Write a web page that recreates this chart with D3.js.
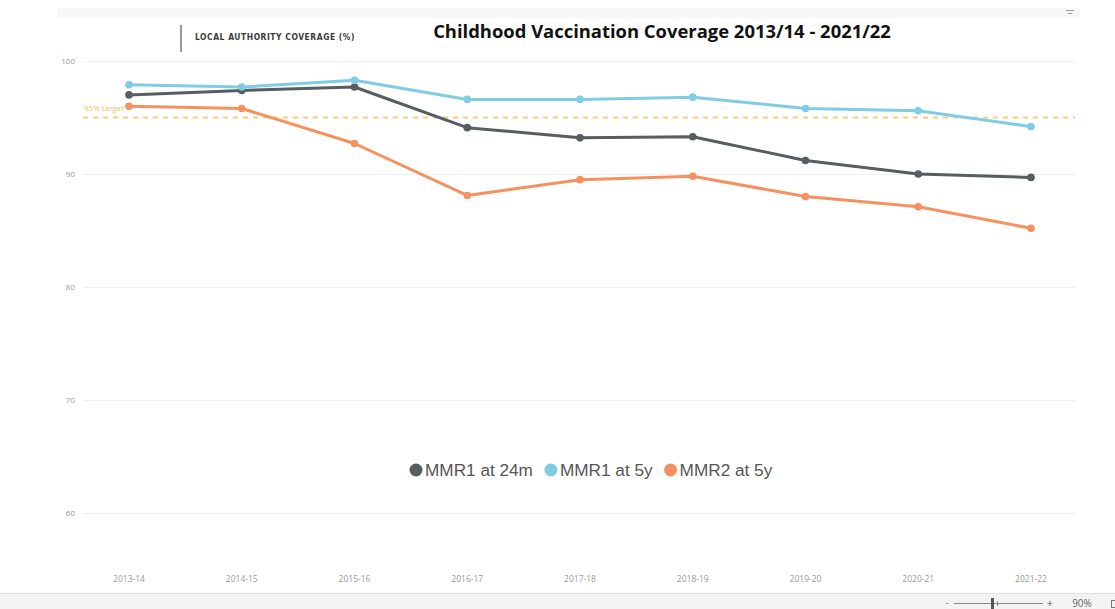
<!DOCTYPE html>
<html>
<head>
<meta charset="utf-8">
<script src="https://cdn.jsdelivr.net/npm/d3@7"></script>
<style>
  html, body { margin: 0; padding: 0; background: #fff; }
  svg { display: block; }
</style>
</head>
<body>
<svg id="chart" width="1115" height="609"></svg>
<script>
// Financial years shown on the x axis
const years = ["2013-14", "2014-15", "2015-16", "2016-17", "2017-18", "2018-19", "2019-20", "2020-21", "2021-22"];

// Coverage (%) per series
const mmr1At24m = [97.0, 97.4, 97.7, 94.1, 93.2, 93.3, 91.2, 90.0, 89.7];
const mmr1At5y  = [97.9, 97.7, 98.3, 96.6, 96.6, 96.8, 95.8, 95.6, 94.2];
const mmr2At5y  = [96.0, 95.8, 92.7, 88.1, 89.5, 89.8, 88.0, 87.1, 85.2];

const seriesNames = ["MMR1 at 24m", "MMR1 at 5y", "MMR2 at 5y"];
const yTicks = [60, 70, 80, 90, 100];
const targetValue = 95;
const targetLabel = "95% target";

const colors = ["#565e62", "#7fcce5", "#f4915f"];
const series = [mmr1At24m, mmr1At5y, mmr2At5y].map((v, i) => ({
  name: seriesNames[i], color: colors[i],
  points: v.map((val, j) => ({ year: years[j], value: val }))
}));

const svg = d3.select("#chart");

// Report chrome: header strip and footer bar
svg.append("rect").attr("x", 57).attr("y", 8).attr("width", 1023).attr("height", 10).attr("fill", "#f7f7f7");
const filt = svg.append("g").attr("stroke", "#9a9a9a").attr("stroke-width", 1);
filt.append("line").attr("x1", 1066).attr("x2", 1074).attr("y1", 10.5).attr("y2", 10.5);
filt.append("line").attr("x1", 1068).attr("x2", 1072).attr("y1", 13.5).attr("y2", 13.5);

svg.append("rect").attr("x", 0).attr("y", 593).attr("width", 1115).attr("height", 16).attr("fill", "#f3f3f3");
svg.append("line").attr("x1", 0).attr("x2", 1115).attr("y1", 593.5).attr("y2", 593.5).attr("stroke", "#e2e2e2");
const zoomBar = svg.append("g");
zoomBar.append("text").attr("x", 947).attr("y", 606).attr("text-anchor", "middle")
  .attr("font-family", "'Segoe UI', 'Open Sans', sans-serif").attr("font-size", 10).attr("fill", "#777").text("-");
zoomBar.append("line").attr("x1", 954).attr("x2", 1043).attr("y1", 603.5).attr("y2", 603.5).attr("stroke", "#888");
zoomBar.append("rect").attr("x", 991).attr("y", 598).attr("width", 3).attr("height", 11).attr("fill", "#555");
zoomBar.append("line").attr("x1", 997.5).attr("x2", 997.5).attr("y1", 601).attr("y2", 606).attr("stroke", "#888");
zoomBar.append("text").attr("x", 1050).attr("y", 607).attr("text-anchor", "middle")
  .attr("font-family", "'Segoe UI', 'Open Sans', sans-serif").attr("font-size", 11).attr("fill", "#555").text("+");
zoomBar.append("text").attr("x", 1082).attr("y", 607).attr("text-anchor", "middle")
  .attr("font-family", "'Segoe UI', 'Open Sans', sans-serif").attr("font-size", 10).attr("fill", "#666").text("90%");
zoomBar.append("rect").attr("x", 1111.5).attr("y", 600.5).attr("width", 5).attr("height", 7)
  .attr("fill", "none").attr("stroke", "#777");

// Scales
const x = d3.scalePoint().domain(years).range([129, 1031]);
const y = d3.scaleLinear().domain([60, 100]).range([513, 61]);
const gridLeft = 83, gridRight = 1075;

// Title
const title = svg.append("text").attr("x", 662).attr("y", 38).attr("text-anchor", "middle")
  .attr("font-family", "'Open Sans', 'Noto Sans', sans-serif").attr("font-weight", 700)
  .attr("font-size", 18).attr("fill", "#111")
  .text("Childhood Vaccination Coverage 2013/14 - 2021/22");
{
  const w = title.node().getComputedTextLength();
  title.attr("font-size", 18 * 458 / w);
}

// Sub header with separator bar
svg.append("line").attr("x1", 181).attr("x2", 181).attr("y1", 25).attr("y2", 52)
  .attr("stroke", "#777").attr("stroke-width", 1.5);
svg.append("text").attr("x", 195).attr("y", 40)
  .attr("font-family", "'DejaVu Sans Condensed', 'Roboto', sans-serif").attr("font-weight", 700)
  .attr("font-size", 9).attr("letter-spacing", 0.6).attr("fill", "#3a3a3a")
  .attr("textLength", 160).attr("lengthAdjust", "spacingAndGlyphs")
  .text("LOCAL AUTHORITY COVERAGE (%)");

// Y gridlines and labels
const yAxis = svg.append("g");
yAxis.selectAll("line").data(yTicks).join("line")
  .attr("x1", gridLeft).attr("x2", gridRight)
  .attr("y1", d => y(d) + 0.5).attr("y2", d => y(d) + 0.5)
  .attr("stroke", "#eeeeee").attr("stroke-width", 1);
yAxis.selectAll("text").data(yTicks).join("text")
  .attr("x", 75).attr("y", d => y(d) + 3).attr("text-anchor", "end")
  .attr("font-family", "'Open Sans', sans-serif").attr("font-size", 8).attr("fill", "#999")
  .text(d => d);

// X labels
svg.append("g").selectAll("text").data(years).join("text")
  .attr("x", d => x(d)).attr("y", 582).attr("text-anchor", "middle")
  .attr("font-family", "'Open Sans', sans-serif").attr("font-size", 8.5).attr("fill", "#999")
  .text(d => d);

// 95% target reference line
svg.append("line").attr("x1", gridLeft).attr("x2", gridRight)
  .attr("y1", y(targetValue)).attr("y2", y(targetValue))
  .attr("stroke", "#f6cd78").attr("stroke-width", 2).attr("stroke-dasharray", "5,5");
svg.append("text").attr("x", 84).attr("y", y(targetValue) - 7)
  .attr("font-family", "'Open Sans', sans-serif").attr("font-size", 8).attr("fill", "#efc25e")
  .text(targetLabel);

// Series lines and markers
const line = d3.line().x(d => x(d.year)).y(d => y(d.value));
const gS = svg.append("g");
series.forEach(s => {
  gS.append("path").datum(s.points).attr("d", line)
    .attr("fill", "none").attr("stroke", s.color).attr("stroke-width", 3)
    .attr("stroke-linejoin", "round");
  gS.selectAll(null).data(s.points).join("circle")
    .attr("cx", d => x(d.year)).attr("cy", d => y(d.value)).attr("r", 3.8)
    .attr("fill", s.color);
});

// Legend
const legend = svg.append("g");
let lx = 0;
series.forEach(s => {
  const g = legend.append("g");
  g.append("circle").attr("cx", 0).attr("cy", 0).attr("r", 6.5).attr("fill", s.color);
  const t = g.append("text").attr("x", 9).attr("y", 6.3)
    .attr("font-family", "'Liberation Sans', Arial, sans-serif").attr("font-size", 17.2)
    .attr("fill", "#555").text(s.name);
  const w = t.node().getComputedTextLength();
  g.attr("transform", `translate(${lx},0)`);
  lx += 9 + w + 18;
});
legend.attr("transform", `translate(416,470)`);
</script>
</body>
</html>
